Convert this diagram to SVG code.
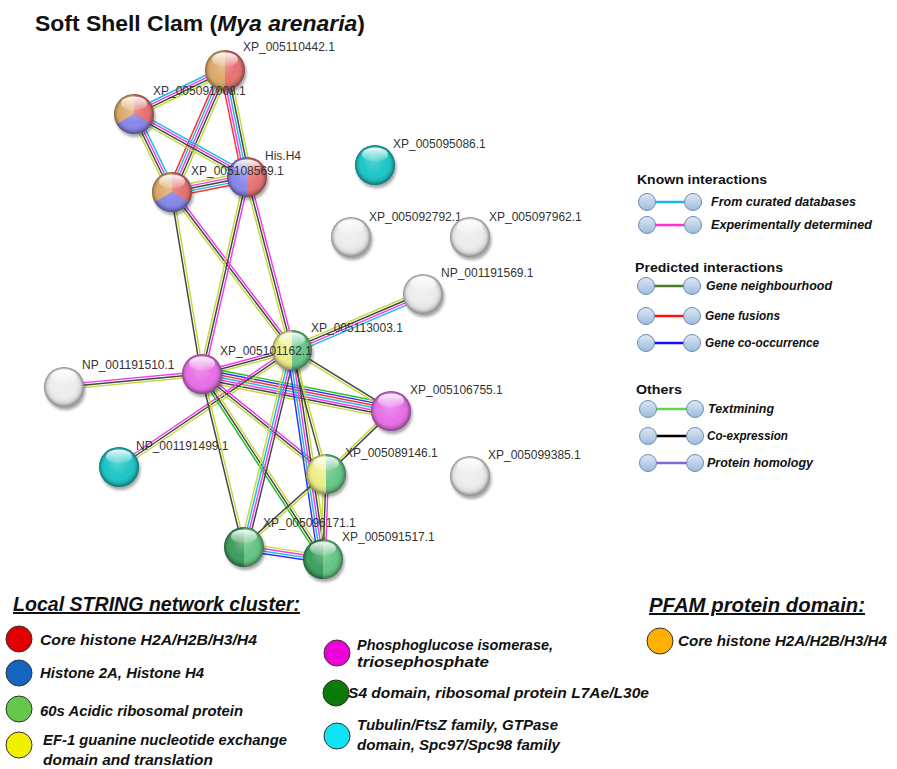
<svg xmlns="http://www.w3.org/2000/svg" xmlns:xlink="http://www.w3.org/1999/xlink" width="897" height="769" viewBox="0 0 897 769">
<style>
.lbl{font-family:"Liberation Sans",Arial,sans-serif;font-size:12px;fill:#333}
.e line{stroke-width:1.45;fill:none}
.tm{stroke:#c2da3c}.co{stroke:#444}.ex{stroke:#f03cf0}.db{stroke:#1ebde0}.fu{stroke:#ff3030}.oc{stroke:#3030ff}.nb{stroke:#1fbf1f}
.h{font-family:"Liberation Sans",Arial,sans-serif;font-weight:bold;font-size:13px;fill:#111}
.it{font-family:"Liberation Sans",Arial,sans-serif;font-weight:bold;font-style:italic;font-size:12px;fill:#111}
.lg line{stroke-width:2.6}
.lc{fill:url(#lgc);stroke:#6a8cb5;stroke-width:1}
.ct{font-family:"Liberation Sans",Arial,sans-serif;font-weight:bold;font-style:italic;font-size:14px;fill:#111}
.cc{stroke:#333;stroke-width:1}
.hd{font-family:"Liberation Sans",Arial,sans-serif;font-weight:bold;font-style:italic;font-size:20px;fill:#111;text-decoration:underline}
.ttl{font-family:"Liberation Sans",Arial,sans-serif;font-weight:bold;font-size:22px;fill:#111}
</style>
<defs>
<radialGradient id="sh" cx="0.5" cy="0.5" r="0.5" fx="0.45" fy="0.35">
<stop offset="0" stop-color="#fff" stop-opacity="0.25"/>
<stop offset="0.6" stop-color="#fff" stop-opacity="0"/>
<stop offset="0.85" stop-color="#000" stop-opacity="0.1"/>
<stop offset="1" stop-color="#000" stop-opacity="0.42"/>
</radialGradient>
<linearGradient id="hl" x1="0" y1="0" x2="0" y2="1">
<stop offset="0" stop-color="#fff" stop-opacity="0.95"/>
<stop offset="1" stop-color="#fff" stop-opacity="0.1"/>
</linearGradient>
<linearGradient id="lgc" x1="0" y1="0" x2="0" y2="1">
<stop offset="0" stop-color="#dde8f5"/>
<stop offset="1" stop-color="#9dbbdc"/>
</linearGradient>
<filter id="bl" x="-50%" y="-50%" width="200%" height="200%"><feGaussianBlur stdDeviation="1.8"/></filter>
<g id="shd"><circle cx="1.5" cy="3" r="20" fill="#000" opacity="0.35" filter="url(#bl)"/></g>
<g id="ov"><circle r="20" fill="url(#sh)"/><ellipse cy="-10.5" rx="13" ry="7" fill="url(#hl)"/></g>
<path id="Lh" d="M0,-20A20,20 0 0 0 0,20Z"/>
<path id="Rh" d="M0,-20A20,20 0 0 1 0,20Z"/>
<path id="s1" d="M0,0L0,-20A20,20 0 0 1 17.32,10Z"/>
<path id="s2" d="M0,0L17.32,10A20,20 0 0 1 -17.32,10Z"/>
<path id="s3" d="M0,0L-17.32,10A20,20 0 0 1 0,-20Z"/>
</defs>
<rect width="897" height="769" fill="#fff"/>
<text class="ttl" x="35" y="31" textLength="330" lengthAdjust="spacingAndGlyphs">Soft Shell Clam (<tspan font-style="italic">Mya arenaria</tspan>)</text>

<g id="connectors" class="e">
<g transform="translate(134,114) rotate(-25.8)"><line x2="101.1" y1="-3.6" y2="-3.6" class="db"/><line x2="101.1" y1="-1.2" y2="-1.2" class="ex"/><line x2="101.1" y1="1.2" y2="1.2" class="co"/><line x2="101.1" y1="3.6" y2="3.6" class="tm"/></g>
<g transform="translate(172,192) rotate(-66.5)"><line x2="133" y1="-4.8" y2="-4.8" class="fu"/><line x2="133" y1="-2.4" y2="-2.4" class="db"/><line x2="133" class="ex"/><line x2="133" y1="2.4" y2="2.4" class="co"/><line x2="133" y1="4.8" y2="4.8" class="tm"/></g>
<g transform="translate(225,70) rotate(78.4)"><line x2="109.2" y1="-4.8" y2="-4.8" class="tm"/><line x2="109.2" y1="-2.4" y2="-2.4" class="co"/><line x2="109.2" class="db"/><line x2="109.2" y1="2.4" y2="2.4" class="ex"/><line x2="109.2" y1="4.8" y2="4.8" class="fu"/></g>
<g transform="translate(134,114) rotate(29.1)"><line x2="129.4" y1="-3.6" y2="-3.6" class="db"/><line x2="129.4" y1="-1.2" y2="-1.2" class="ex"/><line x2="129.4" y1="1.2" y2="1.2" class="co"/><line x2="129.4" y1="3.6" y2="3.6" class="tm"/></g>
<g transform="translate(134,114) rotate(64)"><line x2="86.8" y1="-3.6" y2="-3.6" class="db"/><line x2="86.8" y1="-1.2" y2="-1.2" class="ex"/><line x2="86.8" y1="1.2" y2="1.2" class="co"/><line x2="86.8" y1="3.6" y2="3.6" class="tm"/></g>
<g transform="translate(172,192) rotate(-11.3)"><line x2="76.5" y1="-4.8" y2="-4.8" class="tm"/><line x2="76.5" y1="-2.4" y2="-2.4" class="ex"/><line x2="76.5" class="co"/><line x2="76.5" y1="2.4" y2="2.4" class="db"/><line x2="76.5" y1="4.8" y2="4.8" class="fu"/></g>
<g transform="translate(172,192) rotate(80.6)"><line x2="184.5" y1="-1.2" y2="-1.2" class="tm"/><line x2="184.5" y1="1.2" y2="1.2" class="co"/></g>
<g transform="translate(172,192) rotate(52.8)"><line x2="198.4" y1="-2.4" y2="-2.4" class="ex"/><line x2="198.4" class="co"/><line x2="198.4" y1="2.4" y2="2.4" class="tm"/></g>
<g transform="translate(247,177) rotate(102.9)"><line x2="202.1" y1="-2.4" y2="-2.4" class="ex"/><line x2="202.1" class="co"/><line x2="202.1" y1="2.4" y2="2.4" class="tm"/></g>
<g transform="translate(247,177) rotate(75.4)"><line x2="178.8" y1="-2.4" y2="-2.4" class="ex"/><line x2="178.8" class="co"/><line x2="178.8" y1="2.4" y2="2.4" class="tm"/></g>
<g transform="translate(292,350) rotate(-23.1)"><line x2="142.5" y1="-3.6" y2="-3.6" class="tm"/><line x2="142.5" y1="-1.2" y2="-1.2" class="co"/><line x2="142.5" y1="1.2" y2="1.2" class="ex"/><line x2="142.5" y1="3.6" y2="3.6" class="db"/></g>
<g transform="translate(64,387) rotate(-5.4)"><line x2="138.6" y1="-2.4" y2="-2.4" class="ex"/><line x2="138.6" class="co"/><line x2="138.6" y1="2.4" y2="2.4" class="tm"/></g>
<g transform="translate(202,374) rotate(-14.9)"><line x2="93.1" y1="-2.4" y2="-2.4" class="ex"/><line x2="93.1" class="co"/><line x2="93.1" y1="2.4" y2="2.4" class="tm"/></g>
<g transform="translate(202,374) rotate(11.1)"><line x2="192.6" y1="-7.2" y2="-7.2" class="nb"/><line x2="192.6" y1="-4.8" y2="-4.8" class="oc"/><line x2="192.6" y1="-2.4" y2="-2.4" class="fu"/><line x2="192.6" class="db"/><line x2="192.6" y1="2.4" y2="2.4" class="ex"/><line x2="192.6" y1="4.8" y2="4.8" class="co"/><line x2="192.6" y1="7.2" y2="7.2" class="tm"/></g>
<g transform="translate(292,350) rotate(31.6)"><line x2="116.3" y1="-1.2" y2="-1.2" class="co"/><line x2="116.3" y1="1.2" y2="1.2" class="tm"/></g>
<g transform="translate(119,467) rotate(-34.1)"><line x2="208.8" y1="-2.4" y2="-2.4" class="ex"/><line x2="208.8" class="co"/><line x2="208.8" y1="2.4" y2="2.4" class="tm"/></g>
<g transform="translate(202,374) rotate(38.9)"><line x2="159.3" y1="-2.4" y2="-2.4" class="ex"/><line x2="159.3" class="co"/><line x2="159.3" y1="2.4" y2="2.4" class="tm"/></g>
<g transform="translate(202,374) rotate(76.4)"><line x2="178" y1="-1.2" y2="-1.2" class="tm"/><line x2="178" y1="1.2" y2="1.2" class="co"/></g>
<g transform="translate(202,374) rotate(56.8)"><line x2="221.1" y1="-2.4" y2="-2.4" class="tm"/><line x2="221.1" class="co"/><line x2="221.1" y1="2.4" y2="2.4" class="nb"/></g>
<g transform="translate(292,350) rotate(103.7)"><line x2="202.8" y1="-3.6" y2="-3.6" class="co"/><line x2="202.8" y1="-1.2" y2="-1.2" class="ex"/><line x2="202.8" y1="1.2" y2="1.2" class="db"/><line x2="202.8" y1="3.6" y2="3.6" class="tm"/></g>
<g transform="translate(292,350) rotate(81.6)"><line x2="211.3" y1="-4.8" y2="-4.8" class="tm"/><line x2="211.3" y1="-2.4" y2="-2.4" class="co"/><line x2="211.3" class="ex"/><line x2="211.3" y1="2.4" y2="2.4" class="db"/><line x2="211.3" y1="4.8" y2="4.8" class="oc"/></g>
<g transform="translate(292,350) rotate(74.7)"><line x2="128.6" y1="-1.2" y2="-1.2" class="tm"/><line x2="128.6" y1="1.2" y2="1.2" class="co"/></g>
<g transform="translate(391,411) rotate(135.9)"><line x2="90.5" y1="-1.2" y2="-1.2" class="co"/><line x2="90.5" y1="1.2" y2="1.2" class="tm"/></g>
<g transform="translate(326,474) rotate(138.3)"><line x2="109.8" y1="-1.2" y2="-1.2" class="tm"/><line x2="109.8" y1="1.2" y2="1.2" class="co"/></g>
<g transform="translate(326,474) rotate(92)"><line x2="85.1" y1="-2.4" y2="-2.4" class="ex"/><line x2="85.1" class="co"/><line x2="85.1" y1="2.4" y2="2.4" class="tm"/></g>
<g transform="translate(244,547) rotate(8.6)"><line x2="79.9" y1="-3.6" y2="-3.6" class="tm"/><line x2="79.9" y1="-1.2" y2="-1.2" class="ex"/><line x2="79.9" y1="1.2" y2="1.2" class="db"/><line x2="79.9" y1="3.6" y2="3.6" class="oc"/></g>
</g>

<g id="n-XP_005110442" transform="translate(225,70)"><use href="#shd"/><use href="#Lh" fill="#dcaa6c"/><use href="#Rh" fill="#e77272"/><use href="#ov"/><text class="lbl" x="18" y="-19">XP_005110442.1</text></g>
<g id="n-XP_005091008" transform="translate(134,114)"><use href="#shd"/><use href="#s1" fill="#e77272"/><use href="#s2" fill="#8888ec"/><use href="#s3" fill="#dcaa6c"/><use href="#ov"/><text class="lbl" x="19" y="-19">XP_005091008.1</text></g>
<g id="n-His.H4" transform="translate(247,177)"><use href="#shd"/><use href="#Lh" fill="#8888ec"/><use href="#Rh" fill="#e77272"/><use href="#ov"/><text class="lbl" x="18" y="-17">His.H4</text></g>
<g id="n-XP_005108569" transform="translate(172,192)"><use href="#shd"/><use href="#s1" fill="#e77272"/><use href="#s2" fill="#8888ec"/><use href="#s3" fill="#dcaa6c"/><use href="#ov"/><text class="lbl" x="19" y="-17">XP_005108569.1</text></g>
<g id="n-XP_005095086" transform="translate(375,165)"><use href="#shd"/><circle r="20" fill="#1fc6c6"/><use href="#ov"/><text class="lbl" x="18" y="-17">XP_005095086.1</text></g>
<g id="n-XP_005092792" transform="translate(351,237)"><use href="#shd"/><circle r="20" fill="#ececec"/><use href="#ov"/><text class="lbl" x="18" y="-16">XP_005092792.1</text></g>
<g id="n-XP_005097962" transform="translate(470,237)"><use href="#shd"/><circle r="20" fill="#ececec"/><use href="#ov"/><text class="lbl" x="19" y="-16">XP_005097962.1</text></g>
<g id="n-NP_001191569" transform="translate(423,294)"><use href="#shd"/><circle r="20" fill="#ececec"/><use href="#ov"/><text class="lbl" x="18" y="-17">NP_001191569.1</text></g>
<g id="n-XP_005113003" transform="translate(292,350)"><use href="#shd"/><use href="#Lh" fill="#eeee88"/><use href="#Rh" fill="#68c888"/><use href="#ov"/><text class="lbl" x="19" y="-18">XP_005113003.1</text></g>
<g id="n-XP_005101162" transform="translate(202,374)"><use href="#shd"/><circle r="20" fill="#e870e8"/><use href="#ov"/><text class="lbl" x="18" y="-19">XP_005101162.1</text></g>
<g id="n-NP_001191510" transform="translate(64,387)"><use href="#shd"/><circle r="20" fill="#ececec"/><use href="#ov"/><text class="lbl" x="18" y="-18">NP_001191510.1</text></g>
<g id="n-XP_005106755" transform="translate(391,411)"><use href="#shd"/><circle r="20" fill="#e870e8"/><use href="#ov"/><text class="lbl" x="19" y="-17">XP_005106755.1</text></g>
<g id="n-NP_001191499" transform="translate(119,467)"><use href="#shd"/><circle r="20" fill="#1fc6c6"/><use href="#ov"/><text class="lbl" x="17" y="-17">NP_001191499.1</text></g>
<g id="n-XP_005089146" transform="translate(326,474)"><use href="#shd"/><use href="#Lh" fill="#eeee88"/><use href="#Rh" fill="#68c888"/><use href="#ov"/><text class="lbl" x="19" y="-17">XP_005089146.1</text></g>
<g id="n-XP_005099385" transform="translate(470,476)"><use href="#shd"/><circle r="20" fill="#ececec"/><use href="#ov"/><text class="lbl" x="18" y="-17">XP_005099385.1</text></g>
<g id="n-XP_005096171" transform="translate(244,547)"><use href="#shd"/><use href="#Lh" fill="#3e9e5e"/><use href="#Rh" fill="#66c486"/><use href="#ov"/><text class="lbl" x="19" y="-20">XP_005096171.1</text></g>
<g id="n-XP_005091517" transform="translate(323,559)"><use href="#shd"/><use href="#Lh" fill="#3e9e5e"/><use href="#Rh" fill="#66c486"/><use href="#ov"/><text class="lbl" x="19" y="-18">XP_005091517.1</text></g>

<g id="legend-interactions" class="lg">
<text class="h" x="637" y="184" textLength="130" lengthAdjust="spacingAndGlyphs">Known interactions</text>
<line x1="647" y1="202" x2="693" y2="202" stroke="#1fb4e6"/><circle class="lc" cx="647" cy="202" r="8.5"/><circle class="lc" cx="693" cy="202" r="8.5"/>
<text class="it" x="711" y="206" textLength="145" lengthAdjust="spacingAndGlyphs">From curated databases</text>
<line x1="647" y1="225" x2="693" y2="225" stroke="#ff2fd0"/><circle class="lc" cx="647" cy="225" r="8.5"/><circle class="lc" cx="693" cy="225" r="8.5"/>
<text class="it" x="711" y="229" textLength="161" lengthAdjust="spacingAndGlyphs">Experimentally  determined</text>
<text class="h" x="635" y="272" textLength="148" lengthAdjust="spacingAndGlyphs">Predicted interactions</text>
<line x1="646" y1="286" x2="692" y2="286" stroke="#4e7a2a"/><circle class="lc" cx="646" cy="286" r="8.5"/><circle class="lc" cx="692" cy="286" r="8.5"/>
<text class="it" x="706" y="290" textLength="126" lengthAdjust="spacingAndGlyphs">Gene neighbourhood</text>
<line x1="646" y1="316" x2="692" y2="316" stroke="#ff1010"/><circle class="lc" cx="646" cy="316" r="8.5"/><circle class="lc" cx="692" cy="316" r="8.5"/>
<text class="it" x="705" y="320" textLength="75" lengthAdjust="spacingAndGlyphs">Gene fusions</text>
<line x1="646" y1="343" x2="692" y2="343" stroke="#1010ff"/><circle class="lc" cx="646" cy="343" r="8.5"/><circle class="lc" cx="692" cy="343" r="8.5"/>
<text class="it" x="705" y="347" textLength="114" lengthAdjust="spacingAndGlyphs">Gene co-occurrence</text>
<text class="h" x="636" y="394" textLength="46" lengthAdjust="spacingAndGlyphs">Others</text>
<line x1="648" y1="409" x2="695" y2="409" stroke="#5fd83c"/><circle class="lc" cx="648" cy="409" r="8.5"/><circle class="lc" cx="695" cy="409" r="8.5"/>
<text class="it" x="708" y="413" textLength="66" lengthAdjust="spacingAndGlyphs">Textmining</text>
<line x1="648" y1="436" x2="695" y2="436" stroke="#000"/><circle class="lc" cx="648" cy="436" r="8.5"/><circle class="lc" cx="695" cy="436" r="8.5"/>
<text class="it" x="707" y="440" textLength="81" lengthAdjust="spacingAndGlyphs">Co-expression</text>
<line x1="648" y1="463" x2="695" y2="463" stroke="#8a5fe0"/><circle class="lc" cx="648" cy="463" r="8.5"/><circle class="lc" cx="695" cy="463" r="8.5"/>
<text class="it" x="707" y="467" textLength="106" lengthAdjust="spacingAndGlyphs">Protein homology</text>
</g>

<g id="legend-cluster">
<text class="hd" x="13" y="611" textLength="287" lengthAdjust="spacingAndGlyphs">Local STRING network cluster:</text>
<circle class="cc" cx="19" cy="639" r="13" fill="#e00000"/>
<text class="ct" x="40" y="645" textLength="217" lengthAdjust="spacingAndGlyphs">Core histone H2A/H2B/H3/H4</text>
<circle class="cc" cx="19" cy="673" r="13" fill="#1565c0"/>
<text class="ct" x="40" y="678" textLength="164" lengthAdjust="spacingAndGlyphs">Histone 2A, Histone H4</text>
<circle class="cc" cx="19" cy="709" r="13" fill="#66c84a"/>
<text class="ct" x="40" y="716" textLength="203" lengthAdjust="spacingAndGlyphs">60s Acidic ribosomal  protein</text>
<circle class="cc" cx="19" cy="745" r="13" fill="#f0f000"/>
<text class="ct" x="43" y="745" textLength="244" lengthAdjust="spacingAndGlyphs">EF-1 guanine  nucleotide  exchange</text>
<text class="ct" x="43" y="765" textLength="170" lengthAdjust="spacingAndGlyphs">domain and  translation</text>
<circle class="cc" cx="337" cy="653" r="13" fill="#f000d8"/>
<text class="ct" x="357" y="650" textLength="196" lengthAdjust="spacingAndGlyphs">Phosphoglucose  isomerase,</text>
<text class="ct" x="357" y="667" textLength="132" lengthAdjust="spacingAndGlyphs">triosephosphate</text>
<circle class="cc" cx="336" cy="693" r="13" fill="#0a7a0a"/>
<text class="ct" x="348" y="698" textLength="301" lengthAdjust="spacingAndGlyphs">S4 domain, ribosomal protein L7Ae/L30e</text>
<circle class="cc" cx="337" cy="736" r="13" fill="#10e4f4"/>
<text class="ct" x="357" y="730" textLength="201" lengthAdjust="spacingAndGlyphs">Tubulin/FtsZ family, GTPase</text>
<text class="ct" x="357" y="750" textLength="203" lengthAdjust="spacingAndGlyphs">domain, Spc97/Spc98 family</text>
</g>

<g id="legend-pfam">
<text class="hd" x="649" y="612" textLength="216" lengthAdjust="spacingAndGlyphs">PFAM protein  domain:</text>
<circle class="cc" cx="660" cy="641" r="13" fill="#ffb000"/>
<text class="ct" x="678" y="646" textLength="209" lengthAdjust="spacingAndGlyphs">Core histone H2A/H2B/H3/H4</text>
</g>
</svg>
